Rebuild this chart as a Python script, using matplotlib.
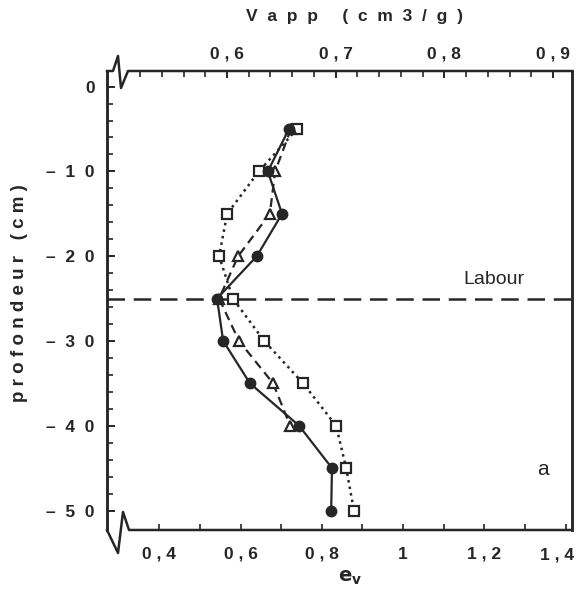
import numpy as np
import matplotlib.pyplot as plt
from matplotlib.lines import Line2D

# depth (cm) and void ratio e_v for the three profiles
depth = [-5, -10, -15, -20, -25, -30, -35, -40, -45, -50]
e_circle = [0.719, 0.667, 0.702, 0.640, 0.542, 0.557, 0.623, 0.744, 0.825, 0.823]
e_square = [0.739, 0.645, 0.567, 0.547, 0.581, 0.658, 0.754, 0.835, 0.860, 0.879]
depth_tri = [-5, -10, -15, -20, -25, -30, -35, -40]
e_tri = [0.724, 0.685, 0.672, 0.594, 0.547, 0.596, 0.680, 0.722]

labour_depth = -25

bottom_ticks = [0.4, 0.5, 0.6, 0.7, 0.8, 0.9, 1.0, 1.1, 1.2, 1.3, 1.4]
bottom_labels = ['0 , 4', '', '0 , 6', '', '0 , 8', '', '1', '', '1 , 2', '', '']
top_major = [0.6, 0.7, 0.8, 0.9]
top_labels = ['0 , 6', '0 , 7', '0 , 8', '0 , 9']
left_major = [0, -10, -20, -30, -40, -50]
left_labels = ['0', '–  1  0', '–  2  0', '–  3  0', '–  4  0', '–  5  0']

ink = '#262626'
W, H = 577, 595
plt.rcParams['font.family'] = ['Liberation Sans', 'DejaVu Sans']
fs = 12.5

fig = plt.figure(figsize=(W / 100, H / 100), dpi=100)
ax = fig.add_axes([107 / W, 1 - 530 / H, (572 - 107) / W, (530 - 71) / H])
ax.set_xlim(0.271, 1.416)
ax.set_ylim(-52.3, 1.84)

ax.plot(e_square, depth, linestyle=':', color=ink, lw=1.8, marker='s', ms=7,
        mfc='white', mec=ink, mew=1.6, zorder=3)
ax.plot(e_tri, depth_tri, linestyle=(0, (4, 2.5)), color=ink, lw=1.6, marker='^',
        ms=7.5, mfc='white', mec=ink, mew=1.6, zorder=4)
ax.plot(e_circle, depth, linestyle='-', color=ink, lw=1.6, marker='o', ms=7.5,
        mfc=ink, mec=ink, zorder=5)

ax.axhline(labour_depth, color=ink, lw=1.8, dashes=(7, 3.5), zorder=2)
ax.text(1.148, -23.3, 'Labour', fontsize=14, color=ink)
ax.text(1.33, -45.8, 'a', fontsize=15, color=ink)

# ticks
ax.set_xticks(bottom_ticks)
ax.set_xticklabels(bottom_labels, fontsize=fs, fontweight='bold', color=ink)
ax.set_yticks(left_major)
ax.set_yticklabels(left_labels, fontsize=fs, fontweight='bold', color=ink)
ax.set_yticks(np.arange(-50, 1, 2), minor=True)
ax.tick_params(axis='x', direction='in', length=4, width=1.2, pad=12, colors=ink)
ax.tick_params(axis='y', which='major', direction='in', length=6, width=1.4,
               pad=9, colors=ink, right=False)
ax.tick_params(axis='y', which='minor', direction='in', length=4, width=1.2,
               colors=ink, right=False)
fig.text(557 / W, 1 - 555 / H, '1 , 4', ha='center', va='center', fontsize=fs,
         fontweight='bold', color=ink)

top = ax.twiny()
top.set_xlim(0.4896, 0.9174)
top.set_xticks(top_major)
top.set_xticklabels(top_labels, fontsize=fs, fontweight='bold', color=ink)
top.set_xticks(np.arange(0.52, 0.91, 0.02), minor=True)
top.tick_params(axis='x', which='major', direction='in', length=5, width=1.4,
                pad=7, colors=ink)
top.tick_params(axis='x', which='minor', direction='in', length=4, width=1.2,
                colors=ink)

for a in (ax, top):
    a.spines['top'].set_visible(False)
    a.spines['bottom'].set_visible(False)
    a.spines['left'].set_linewidth(1.8)
    a.spines['right'].set_linewidth(1.8)
    a.spines['left'].set_color(ink)
    a.spines['right'].set_color(ink)

# top and bottom frame lines with the axis-break zigzags
def fig_line(xs, ys):
    fig.add_artist(Line2D([x / W for x in xs], [1 - y / H for y in ys],
                          transform=fig.transFigure, color=ink, lw=1.8))

fig_line([107, 113, 118, 121, 128, 572], [71, 71, 56, 88, 71, 71])
fig_line([107, 118, 123, 129, 572], [530, 553, 512, 530, 530])

fig.text(355 / W, 1 - 16 / H, 'V  a  p  p     (  c  m  3  /  g  )', ha='center',
         va='center', fontsize=fs, fontweight='bold', color=ink)
fig.text(20 / W, 1 - 293 / H, 'p r o f o n d e u r   ( c m )',
         ha='center', va='center', rotation=90, fontsize=13.5, fontweight='bold',
         color=ink)
fig.text(350 / W, 1 - 578 / H, r'$\mathbf{e}_{\mathbf{v}}$', ha='center',
         va='center', fontsize=14, color=ink)

fig.savefig('out.png', dpi=100)
